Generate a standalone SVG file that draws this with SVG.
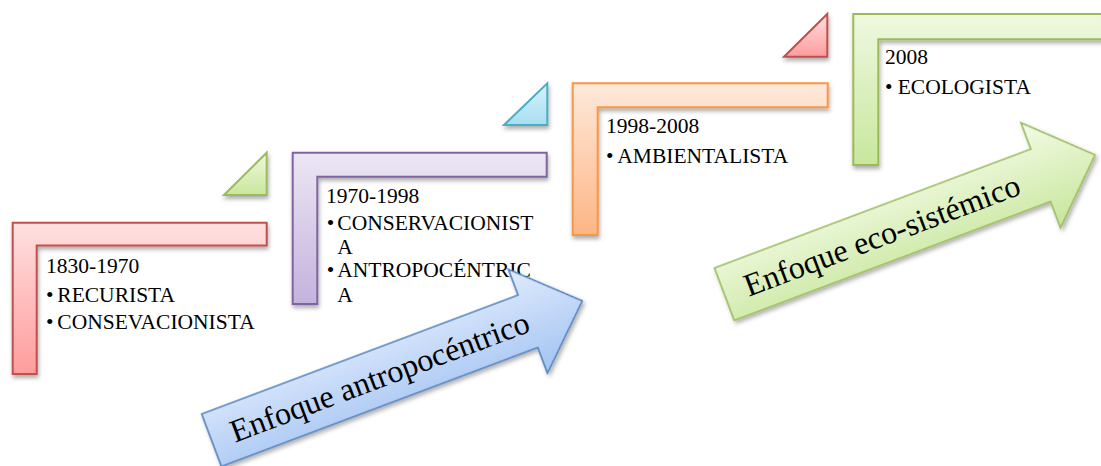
<svg xmlns="http://www.w3.org/2000/svg" width="1101" height="466" viewBox="0 0 1101 466">
<defs>
<filter id="sh" x="-10%" y="-10%" width="130%" height="130%">
<feDropShadow dx="1" dy="3" stdDeviation="2.2" flood-color="#000" flood-opacity="0.32"/>
</filter>
<linearGradient id="gRed" x1="0" y1="0" x2="0" y2="1"><stop offset="0" stop-color="#ffe0e0"/><stop offset="1" stop-color="#ff9c9c"/></linearGradient>
<linearGradient id="gPur" x1="0" y1="0" x2="0" y2="1"><stop offset="0" stop-color="#ece6f4"/><stop offset="1" stop-color="#c4b2dd"/></linearGradient>
<linearGradient id="gOra" x1="0" y1="0" x2="0" y2="1"><stop offset="0" stop-color="#fee9db"/><stop offset="1" stop-color="#fdb584"/></linearGradient>
<linearGradient id="gGrn" x1="0" y1="0" x2="0" y2="1"><stop offset="0" stop-color="#eff8e0"/><stop offset="1" stop-color="#c8e79c"/></linearGradient>
<linearGradient id="gBlu" x1="0" y1="0" x2="0" y2="1"><stop offset="0" stop-color="#e0ebfd"/><stop offset="1" stop-color="#a3c3f2"/></linearGradient>
<linearGradient id="gAqu" x1="0" y1="0" x2="0" y2="1"><stop offset="0" stop-color="#d8f2fb"/><stop offset="1" stop-color="#a6def0"/></linearGradient>
<linearGradient id="gGrnA" x1="0" y1="0" x2="0" y2="1"><stop offset="0" stop-color="#f3fbe6"/><stop offset="1" stop-color="#c7e69b"/></linearGradient>
</defs>
<style>
.t{font-family:"Liberation Serif","Times New Roman",serif;font-size:21.5px;fill:#000}
.big{font-family:"Liberation Serif","Times New Roman",serif;font-size:32px;fill:#000}
.L{stroke-width:2;filter:url(#sh)}
.tri{stroke-width:2;filter:url(#sh)}
.arr{stroke-width:1.6;filter:url(#sh)}
</style>

<g id="tri-green">
<polygon class="tri" points="224,195 266.7,152.7 266.7,195" fill="url(#gGrn)" stroke="#9bbb59"/>
</g>
<g id="tri-aqua">
<polygon class="tri" points="504,125 547.3,83.3 547.3,125" fill="url(#gAqu)" stroke="#4bacc6"/>
</g>
<g id="tri-red">
<polygon class="tri" points="784,56.7 827.3,14 827.3,56.7" fill="url(#gRed)" stroke="#c0504d"/>
</g>

<g id="node-1830">
<path class="L" d="M12.7,222.7 H266.7 V245.5 H36.7 V374 H12.7 Z" fill="url(#gRed)" stroke="#c0504d"/>
<text class="t" x="46" y="273.3">1830-1970</text>
<text class="t" x="46" y="302.3">•</text><text class="t" x="57.3" y="302.3">RECURISTA</text>
<text class="t" x="46" y="329">•</text><text class="t" x="57.3" y="329">CONSEVACIONISTA</text>
</g>

<g id="node-1970">
<path class="L" d="M292.7,152.7 H546.7 V176.7 H317.3 V304 H292.7 Z" fill="url(#gPur)" stroke="#8064a2"/>
<text class="t" x="326" y="203.3">1970-1998</text>
<text class="t" x="326.7" y="230">•</text><text class="t" x="337.3" y="230">CONSERVACIONIST</text>
<text class="t" x="337.3" y="254.3">A</text>
<text class="t" x="326.7" y="277.3">•</text><text class="t" x="337.3" y="277.3">ANTROPOCÉNTRIC</text>
<text class="t" x="337.3" y="301.7">A</text>
</g>

<g id="node-1998">
<path class="L" d="M572.7,83.3 H827.7 V107.3 H597.7 V235 H572.7 Z" fill="url(#gOra)" stroke="#f79646"/>
<text class="t" x="606" y="133.3">1998-2008</text>
<text class="t" x="606" y="162.7">•</text><text class="t" x="617.3" y="162.7">AMBIENTALISTA</text>
</g>

<g id="node-2008">
<path class="L" d="M853.3,14 H1110 V39.3 H878.3 V165 H853.3 Z" fill="url(#gGrn)" stroke="#9bbb59"/>
<text class="t" x="885" y="64">2008</text>
<text class="t" x="885" y="94">•</text><text class="t" x="897.7" y="94">ECOLOGISTA</text>
</g>

<g id="arrow-antropocentrico" transform="translate(201.7,414) rotate(-20.6)">
<polygon class="arr" points="0,0 338,0 338,-27.5 396,28 338,83.5 338,56 0,56" fill="url(#gBlu)" stroke="#4f81bd"/>
<text class="big" x="21" y="38.5">Enfoque antropocéntrico</text>
</g>

<g id="arrow-ecosistemico" transform="translate(714.5,268) rotate(-20.6)">
<polygon class="arr" points="0,0 338,0 338,-28 396,28 338,84 338,56 0,56" fill="url(#gGrnA)" stroke="#9bbb59"/>
<text class="big" x="22" y="39">Enfoque eco-sistémico</text>
</g>

<g id="connectors"/>
</svg>
